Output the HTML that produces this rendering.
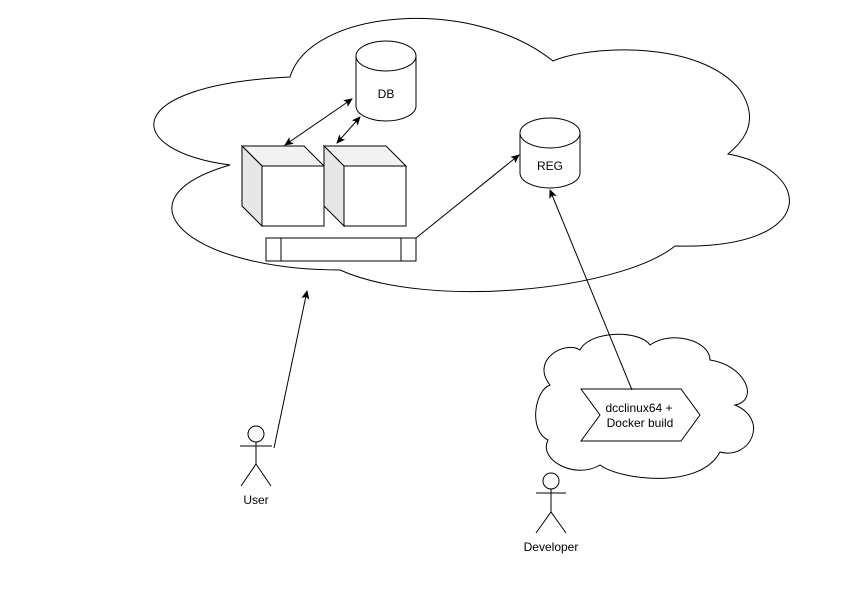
<!DOCTYPE html>
<html><head><style>body{margin:0;background:#fff}</style></head><body>
<svg width="850" height="600" viewBox="0 0 850 600" xmlns="http://www.w3.org/2000/svg" font-family="Liberation Sans, sans-serif" font-size="12">
<defs><marker id="a" markerWidth="10" markerHeight="10" refX="8" refY="4" orient="auto-start-reverse" markerUnits="userSpaceOnUse"><path d="M0,0 L9,4 L0,8 L2,4 Z" fill="#000"/></marker></defs>
<g fill="#fff" stroke="#000" stroke-width="1">
<path d="M290,77 C310,10 470,-5 553,61 C590,45 700,40 740,90 C760,120 745,140 728,154 C815,170 820,250 675,246 C620,290 430,310 340,270 C190,270 110,200 230,165 C120,150 120,85 290,77 Z"/>
<path d="M580,350 C590,330 640,330 650,345 C670,330 710,340 710,360 C745,365 760,400 735,405 C770,420 750,460 720,452 C700,490 620,480 600,465 C575,480 538,460 548,440 C528,430 535,390 550,385 C530,360 565,340 580,350 Z"/>
<path d="M356,56 A30,15 0 0 1 416,56 L416,106 A30,15 0 0 1 356,106 Z"/>
<path d="M356,56 A30,15 0 0 0 416,56" fill="none"/>
<path d="M520,133 A30,15 0 0 1 580,133 L580,173 A30,15 0 0 1 520,173 Z"/>
<path d="M520,133 A30,15 0 0 0 580,133" fill="none"/>
<path d="M242,146 L304,146 L324,166 L262,166 Z" fill="#f2f2f2"/>
<path d="M242,146 L262,166 L262,226 L242,206 Z" fill="#e6e6e6"/>
<rect x="262" y="166" width="62" height="60"/>
<path d="M324,146 L386,146 L406,166 L344,166 Z" fill="#f2f2f2"/>
<path d="M324,146 L344,166 L344,226 L324,206 Z" fill="#e6e6e6"/>
<rect x="344" y="166" width="62" height="60"/>
<rect x="266" y="238" width="150" height="23"/>
<line x1="281" y1="238" x2="281" y2="261"/><line x1="401" y1="238" x2="401" y2="261"/>
<path d="M581,389 L681,389 L700,415 L681,441 L581,441 L600,415 Z"/>
</g>
<g stroke="#000" fill="none">
<line x1="285" y1="145" x2="352" y2="99" marker-start="url(#a)" marker-end="url(#a)"/>
<line x1="337" y1="143" x2="360" y2="117" marker-start="url(#a)" marker-end="url(#a)"/>
<line x1="416" y1="238" x2="519" y2="155" marker-end="url(#a)"/>
<line x1="632" y1="390" x2="550" y2="190" marker-end="url(#a)"/>
<line x1="274" y1="448" x2="307" y2="291" marker-end="url(#a)"/>
<circle cx="256" cy="434" r="8" fill="#fff"/>
<path d="M256,442 V464 M240,446 H272 M241,486 L256,464 L271,486"/>
<circle cx="551" cy="481" r="8" fill="#fff"/>
<path d="M551,489 V512 M536,493 H566 M536,533 L551,512 L566,533"/>
</g>
<g fill="#000" text-anchor="middle">
<text x="386" y="98">DB</text>
<text x="550" y="170">REG</text>
<text x="639" y="412">dcclinux64 +</text>
<text x="640" y="427">Docker build</text>
<text x="256" y="504">User</text>
<text x="551" y="551">Developer</text>
</g>
</svg>
</body></html>
